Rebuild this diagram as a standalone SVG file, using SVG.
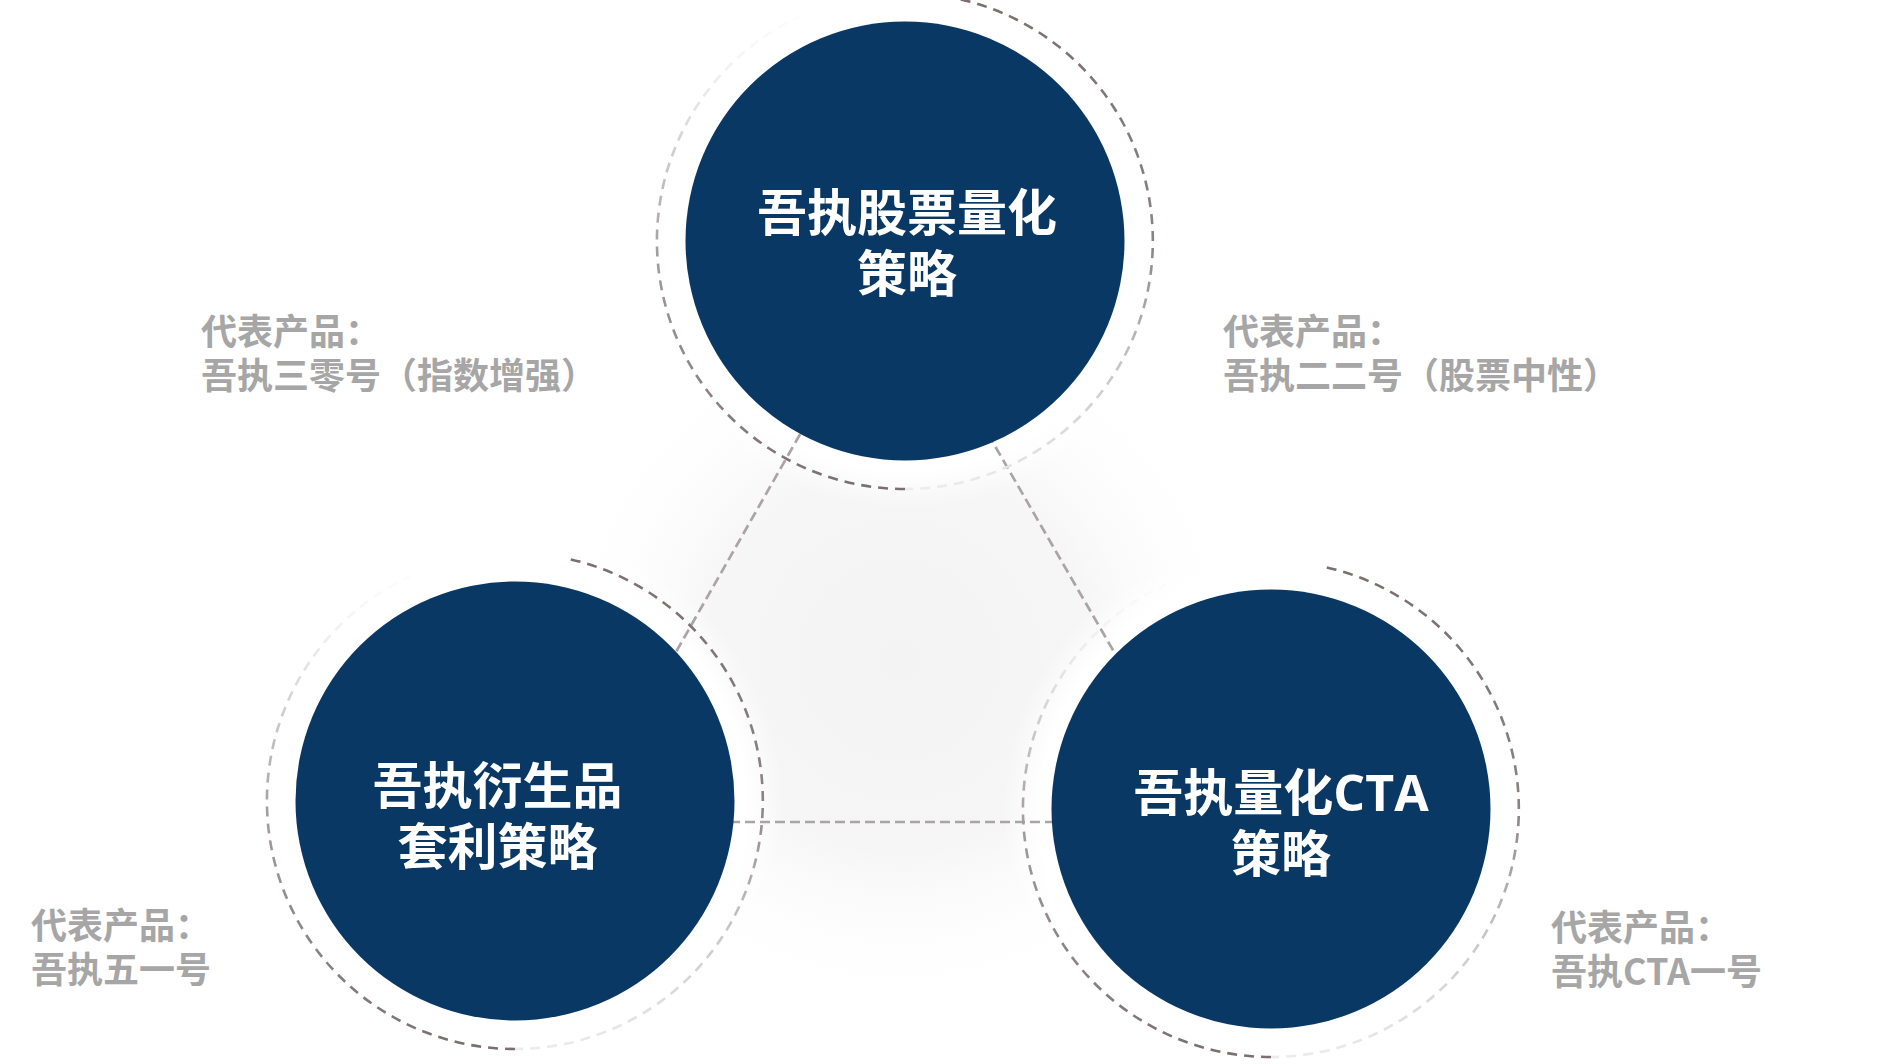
<svg xmlns="http://www.w3.org/2000/svg" width="1892" height="1064" viewBox="0 0 1892 1064">
  <defs>
    <radialGradient id="glow" cx="900" cy="660" r="350" gradientUnits="userSpaceOnUse">
      <stop offset="0" stop-color="#f3f3f3"/>
      <stop offset="0.55" stop-color="#f6f6f6"/>
      <stop offset="1" stop-color="#ffffff" stop-opacity="0"/>
    </radialGradient>
    <radialGradient id="halo">
      <stop offset="0" stop-color="#ffffff"/>
      <stop offset="0.86" stop-color="#ffffff"/>
      <stop offset="1" stop-color="#ffffff" stop-opacity="0"/>
    </radialGradient>
    <linearGradient id="arcA" x1="0" y1="0" x2="0" y2="1">
      <stop offset="0" stop-color="#7a6f6f"/>
      <stop offset="0.5" stop-color="#8c8383"/>
      <stop offset="0.75" stop-color="#c9c5c5"/>
      <stop offset="1" stop-color="#ececec"/>
    </linearGradient>
    <linearGradient id="arcB" x1="0" y1="1" x2="0" y2="0">
      <stop offset="0" stop-color="#7a6f6f"/>
      <stop offset="0.5" stop-color="#a59d9d"/>
      <stop offset="0.8" stop-color="#e2e2e2"/>
      <stop offset="1" stop-color="#f6f6f6" stop-opacity="0.3"/>
    </linearGradient>
  </defs>
  <style>
    .halo { fill: url(#halo); }
    .ringA { fill: none; stroke: url(#arcA); stroke-width: 2.6; stroke-dasharray: 10 7; }
    .ringB { fill: none; stroke: url(#arcB); stroke-width: 2.6; stroke-dasharray: 10 7; }
    .disc { fill: #0a3864; }
    .title { font-family: "Noto Sans CJK SC", "Liberation Sans", sans-serif; font-weight: bold; font-size: 50px; fill: #ffffff; text-anchor: middle; }
    .lat { font-family: "Open Sans", "Noto Sans CJK SC", sans-serif; font-weight: bold; }
    .label { font-family: "Noto Sans CJK SC", "Liberation Sans", sans-serif; font-weight: bold; font-size: 36px; fill: #a6a6a6; }
    .conn { fill: none; stroke: #aca4a4; stroke-width: 2.7; stroke-dasharray: 10 5; }
  </style>
  <rect width="1892" height="1064" fill="#ffffff"/>
  <g id="background">
    <rect x="500" y="250" width="800" height="800" fill="url(#glow)"/>
    <circle class="halo" cx="905" cy="241" r="268"/>
    <circle class="halo" cx="515" cy="801" r="268"/>
    <circle class="halo" cx="1271" cy="809" r="268"/>
  </g>
  <g id="connectors">
    <line class="conn" x1="815" y1="408" x2="660" y2="680"/>
    <line class="conn" x1="973" y1="408" x2="1136" y2="690"/>
    <line class="conn" x1="700" y1="822" x2="1090" y2="822"/>
  </g>
  <g id="node-top">
    <path class="ringA" d="M960.8 -0.6 A248 248 0 0 1 905 489"/>
    <path class="ringB" d="M905 489 A248 248 0 0 1 800.2 16.2"/>
    <circle class="disc" cx="905" cy="241" r="219.5"/>
    <text class="title" x="907" y="231">吾执股票量化<tspan x="907" dy="61">策略</tspan></text>
  </g>
  <g id="node-left">
    <path class="ringA" d="M570.8 559.4 A248 248 0 0 1 515 1049"/>
    <path class="ringB" d="M515 1049 A248 248 0 0 1 410.2 576.2"/>
    <circle class="disc" cx="515" cy="801" r="219.5"/>
    <text class="title" x="497.5" y="804">吾执衍生品<tspan x="497.5" dy="61">套利策略</tspan></text>
  </g>
  <g id="node-right">
    <path class="ringA" d="M1326.8 567.4 A248 248 0 0 1 1271 1057"/>
    <path class="ringB" d="M1271 1057 A248 248 0 0 1 1166.2 584.2"/>
    <circle class="disc" cx="1271" cy="809" r="219.5"/>
    <text class="title" x="1281" y="811">吾执量化<tspan class="lat">CTA</tspan><tspan x="1281" dy="61">策略</tspan></text>
  </g>
  <g id="labels">
    <text class="label" x="201" y="345">代表产品：<tspan x="201" dy="44">吾执三零号（指数增强）</tspan></text>
    <text class="label" x="1223" y="345">代表产品：<tspan x="1223" dy="44">吾执二二号（股票中性）</tspan></text>
    <text class="label" x="31" y="939">代表产品：<tspan x="31" dy="44">吾执五一号</tspan></text>
    <text class="label" x="1551" y="941">代表产品：<tspan x="1551" dy="44">吾执CTA一号</tspan></text>
  </g>
</svg>
